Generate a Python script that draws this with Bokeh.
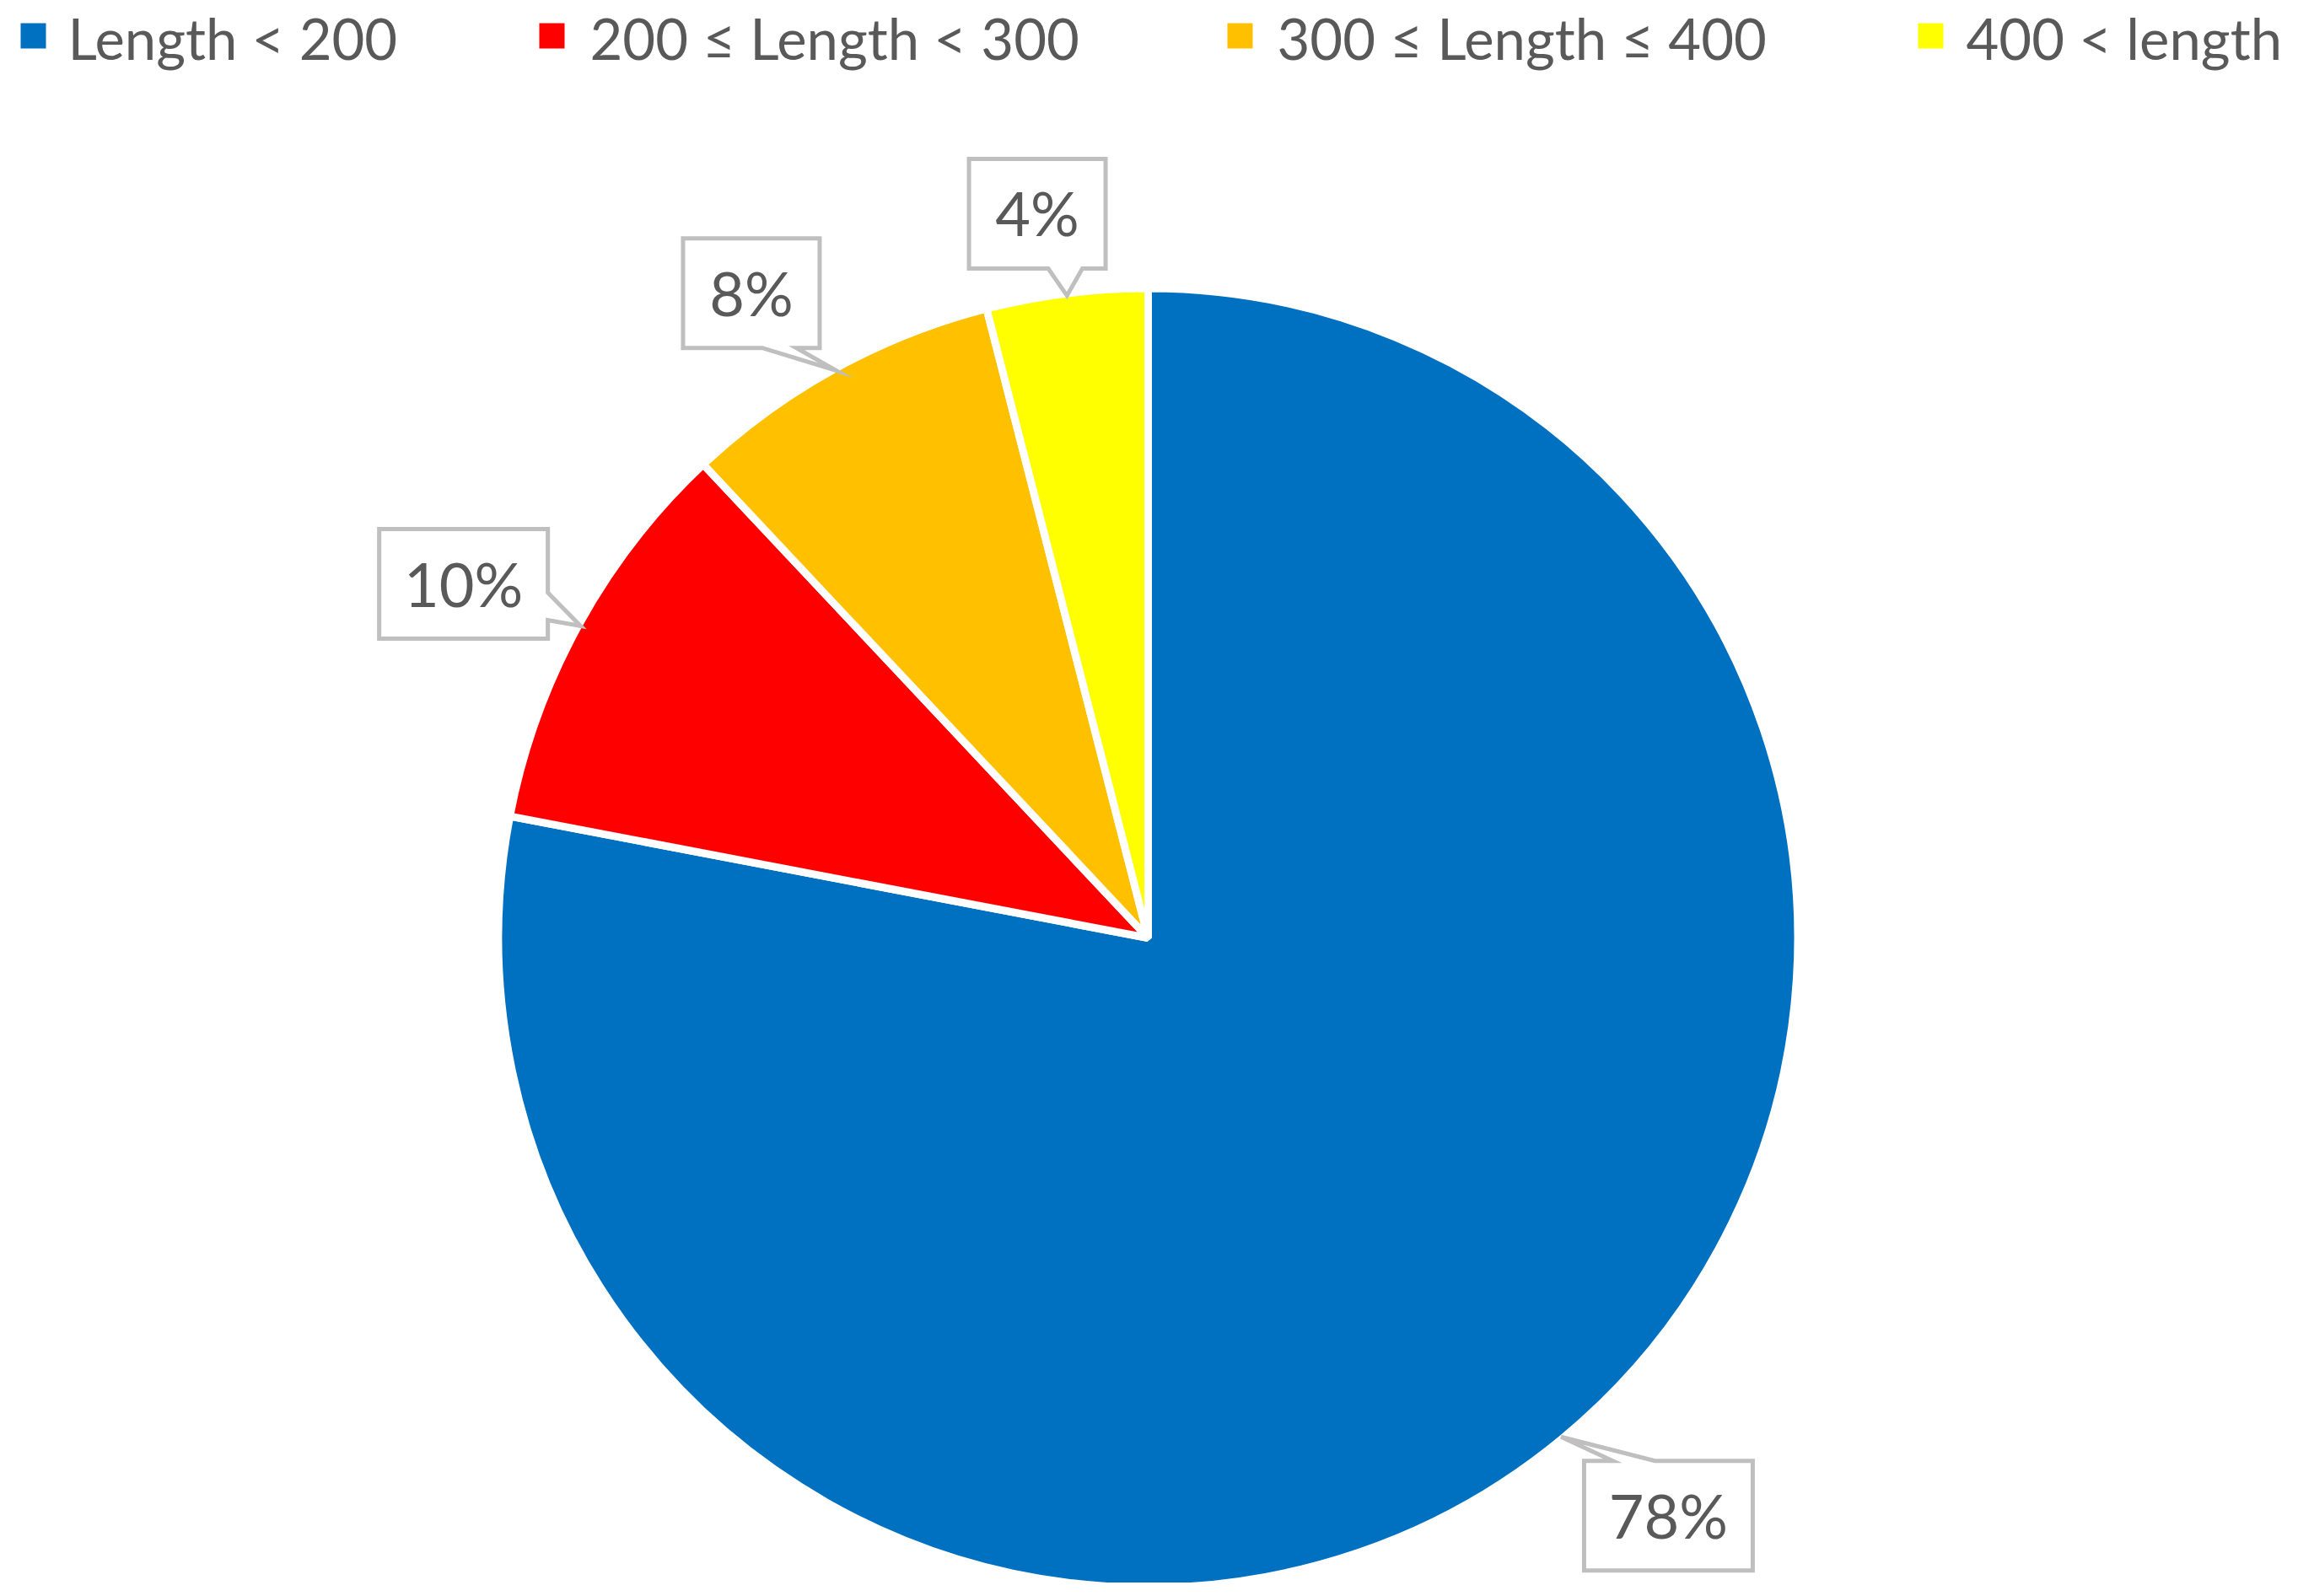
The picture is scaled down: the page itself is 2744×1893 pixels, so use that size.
import math
from bokeh.plotting import figure
from bokeh.models import Range1d, ColumnDataSource
from bokeh.embed import file_html
from bokeh.resources import INLINE
from bokeh.core.properties import value

# ---------------- data ----------------
categories = ["Length < 200", "200 \u2264 Length < 300", "300 \u2264 Length \u2264 400", "400 < length"]
shares = [78, 10, 8, 4]
colors = ["#0070C0", "#FF0000", "#FFC000", "#FFFF00"]

# ---------------- layout (reference pixel space) ----------------
PAGE_W, PAGE_H = 2744, 1893
W, H = 2728, 1877
CX, CY_REF = 1361, 1112
R_VIS = 766
SEP = 9
FONT = "Lato"
TXT_COLOR = "#595959"
BOX_LINE = "#BFBFBF"

legend_sq_x = [39, 654, 1470, 2289]
legend_txt_x = [80, 699, 1514, 2331]
legend_sq_y = 42
legend_txt_mid = 44
legend_sq_size = 30
legend_font = "67px"

label_radius = [922, 914, 898, 869]
label_nudge_deg = [2.4, 1.45, 2.8, 1.5]
box_h = 130


def Y(ref_y):
    return PAGE_H - ref_y


CY = Y(CY_REF)

p = figure(width=W, height=H, output_backend="svg", toolbar_location=None,
           x_range=Range1d(0, W), y_range=Range1d(PAGE_H - H, PAGE_H),
           x_axis_location=None, y_axis_location=None, min_border=0,
           outline_line_color=None, background_fill_color="white",
           border_fill_color="white")
p.xgrid.visible = False
p.ygrid.visible = False

# ---------------- pie ----------------
total = float(sum(shares))
cum = 0.0
starts, ends, mids = [], [], []
for v in shares:
    a_end = 90.0 - cum / total * 360.0
    cum += v
    a_start = 90.0 - cum / total * 360.0
    starts.append(math.radians(a_start))
    ends.append(math.radians(a_end))
    mids.append((a_start + a_end) / 2.0)

src = ColumnDataSource(dict(cat=categories, share=shares, color=colors,
                            start=starts, end=ends))
p.wedge(x=CX, y=CY, radius=R_VIS + SEP / 2.0, start_angle="start", end_angle="end",
        direction="anticlock", fill_color="color", line_color="white",
        line_width=SEP, source=src)

# ---------------- callouts ----------------
xs, ys, tx, ty, tt = [], [], [], [], []
for v, mid, rad, nud in zip(shares, mids, label_radius, label_nudge_deg):
    text = f"{v}%"
    tip_x = CX + (R_VIS + 2) * math.cos(math.radians(mid))
    tip_y = CY + (R_VIS + 2) * math.sin(math.radians(mid))
    bcx = CX + rad * math.cos(math.radians(mid + nud))
    bcy = CY + rad * math.sin(math.radians(mid + nud))
    w = 86 + 38 * len(text)
    x0, x1 = bcx - w / 2, bcx + w / 2
    y0, y1 = bcy - box_h / 2, bcy + box_h / 2
    dx, dy = tip_x - bcx, tip_y - bcy
    if abs(dy) / (box_h / 2) >= abs(dx) / (w / 2):
        edge = "bottom" if dy < 0 else "top"
        lo, hi, L, t_c, c = x0, x1, w, tip_x, bcx
    else:
        edge = "left" if dx < 0 else "right"
        lo, hi, L, t_c, c = y0, y1, box_h, tip_y, bcy
    if t_c > c:
        a, b = lo + 0.58 * L, lo + 0.83 * L
    else:
        a, b = hi - 0.83 * L, hi - 0.58 * L
    px = [x0]
    py = [y0]
    if edge == "bottom":
        px += [a, tip_x, b]; py += [y0, tip_y, y0]
    px.append(x1); py.append(y0)
    if edge == "right":
        px += [x1, tip_x, x1]; py += [a, tip_y, b]
    px.append(x1); py.append(y1)
    if edge == "top":
        px += [b, tip_x, a]; py += [y1, tip_y, y1]
    px.append(x0); py.append(y1)
    if edge == "left":
        px += [x0, tip_x, x0]; py += [b, tip_y, a]
    xs.append(px); ys.append(py)
    tx.append(bcx); ty.append(bcy + 1); tt.append(text)

p.patches(xs=xs, ys=ys, fill_color="white", line_color=BOX_LINE, line_width=5,
          line_join="miter")
p.text(x=tx, y=ty, text=tt, text_font=value(FONT), text_font_size="72px",
       text_color=TXT_COLOR, text_align="center", text_baseline="middle")

# ---------------- legend ----------------
p.rect(x=legend_sq_x, y=[Y(legend_sq_y)] * 4, width=legend_sq_size,
       height=legend_sq_size, fill_color=colors, line_color=None)
p.text(x=legend_txt_x, y=[Y(legend_txt_mid)] * 4, text=categories,
       text_font=value(FONT), text_font_size=legend_font, text_color=TXT_COLOR,
       text_align="left", text_baseline="middle")

open("out.html", "w").write(file_html(p, INLINE))
